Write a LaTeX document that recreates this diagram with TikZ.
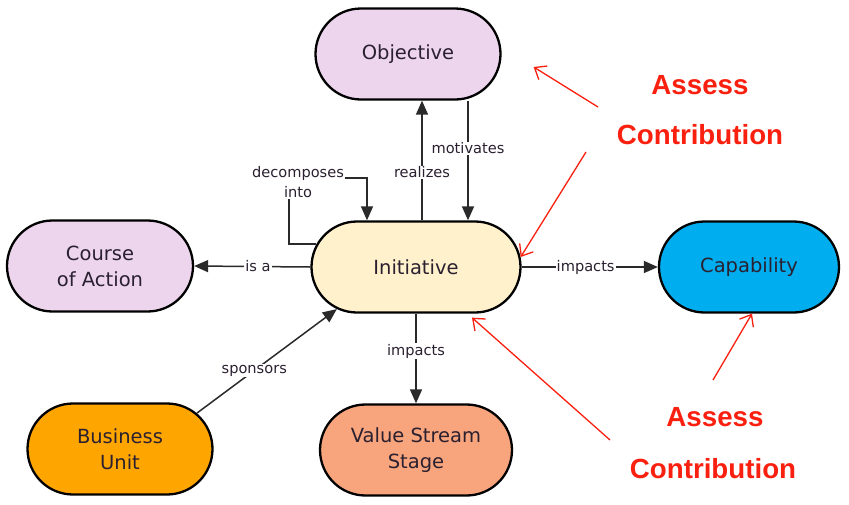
\documentclass[tikz,border=0pt]{standalone}
\usepackage{fontspec}
\setmainfont{DejaVu Sans}
\newfontfamily\redfont{Liberation Sans}
\usetikzlibrary{shapes.misc,arrows.meta}
\definecolor{lav}{HTML}{EDD5EE}
\definecolor{pale}{HTML}{FFF1CC}
\definecolor{capc}{HTML}{00AEEF}
\definecolor{buc}{HTML}{FFA500}
\definecolor{vsc}{HTML}{F8A47C}
\definecolor{txt}{HTML}{2A2030}
\definecolor{edgec}{HTML}{2A2A2A}
\definecolor{redc}{HTML}{FA2010}
\begin{document}
\begin{tikzpicture}[x=1pt,y=-1pt,
  box/.style={rounded rectangle, draw=black, line width=2.3pt, minimum height=91pt, inner sep=0pt, align=center, font=\fontsize{19.5}{26}\selectfont, text=txt},
  edge/.style={draw=edgec, line width=1.5pt, -{Triangle[length=14pt,width=12pt]}},
  lbl/.style={fill=white, inner sep=1pt, align=center, font=\fontsize{14.6}{20}\selectfont, text=txt},
  redarr/.style={draw=redc, line width=1.3pt, -{Straight Barb[length=10pt,width=16pt]}},
  redtxt/.style={text=redc, inner sep=0pt, font=\redfont\bfseries\fontsize{27.7}{30}\selectfont}]
\useasboundingbox (0,0) rectangle (849,504);
\fill[white] (0,0) rectangle (849,504);

% nodes
\node[box, fill=lav, minimum width=185pt] (obj) at (408,54) {Objective};
\node[box, fill=pale, minimum width=209pt] (ini) at (416,267) {Initiative};
\node[box, fill=lav, minimum width=186pt] (coa) at (100,266) {Course\\of Action};
\node[box, fill=capc, minimum width=180pt] (cap) at (749,267) {Capability};
\node[box, fill=buc, minimum width=185pt] (bu) at (120,449) {Business\\Unit};
\node[box, fill=vsc, minimum width=192pt] (vss) at (416,450) {Value Stream\\Stage};

% connectors
\draw[edge] ([shift={(6,0)}]ini.north) -- ([shift={(6,0)}]ini.north |- obj.south)
  node[lbl, pos=0.4] {realizes};
\draw[edge] ([shift={(60,0)}]obj.south) -- ([shift={(60,0)}]obj.south |- ini.north)
  node[lbl, pos=0.4] {motivates};
\coordinate (dcorner) at (289,178);
\draw[edge] ([shift={(6,-23)}]ini.west) -| (dcorner) -| ([shift={(-49,0)}]ini.north);
\node[lbl] (declbl) at (298,182) {decomposes\\into};
\draw[edge] (ini.west) -- (coa.east) node[lbl, pos=0.45] {is a};
\draw[edge] (ini.east) -- (cap.west) node[lbl, pos=0.47] {impacts};
\draw[edge] (ini.south) -- (vss.north) node[lbl, pos=0.42] {impacts};
\draw[edge] (bu.25) -- (ini.208) node[lbl, pos=0.41] {sponsors};

% red annotations
\node[redtxt] (a1) at (700,85) {Assess};
\node[redtxt] (c1) at (700,135) {Contribution};
\node[redtxt] (a2) at (715,417) {Assess};
\node[redtxt] (c2) at (713,469) {Contribution};
\coordinate (r1s) at (598,107);
\coordinate (r2s) at (586,152);
\coordinate (r3s) at (713,380);
\coordinate (r4s) at (610,440);
\draw[redarr] (r1s) -- ([shift={(32,13)}]obj.east);
\draw[redarr] (r2s) -- ([shift={(-1,-10)}]ini.east);
\draw[redarr] (r3s) -- ([shift={(3,0)}]cap.south);
\draw[redarr] (r4s) -- ([shift={(56,4)}]ini.south);
\end{tikzpicture}
\end{document}
